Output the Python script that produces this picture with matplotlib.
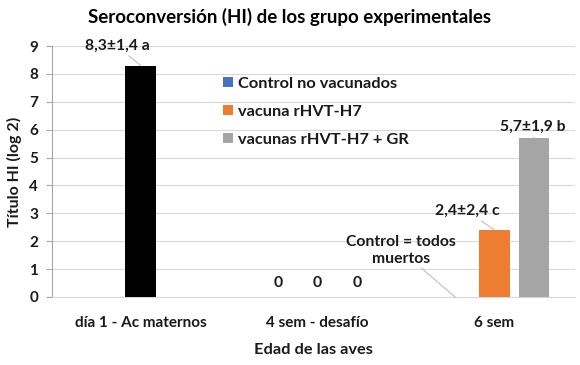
import matplotlib
matplotlib.use("Agg")
import matplotlib.pyplot as plt
from matplotlib.patches import Patch
import numpy as np

plt.rcParams['font.family'] = ['Lato', 'DejaVu Sans']
plt.rcParams['font.weight'] = 'bold'

groups = ["día 1 - Ac maternos", "4 sem - desafío", "6 sem"]
series_names = ["Control no vacunados", "vacuna rHVT-H7", "vacunas rHVT-H7 + GR"]
series_colors = ["#4472C4", "#ED7D31", "#A5A5A5"]
control = [None, 0, None]
vacuna = [None, 0, 2.4]
vacuna_gr = [None, 0, 5.7]
maternos = [8.3, None, None]
maternos_color = "#000000"

annot_texts = ["8,3±1,4 a", "2,4±2,4 c", "5,7±1,9 b"]

fig = plt.figure(figsize=(5.8, 3.65), dpi=100)
ax = fig.add_axes([52/580, 1-297/365, (575-52)/580, (297-46)/365])

x = np.arange(len(groups))
offsets = [-0.223, 0.0, 0.223]
bw = 0.17
all_series = [control, vacuna, vacuna_gr]
tc = '#1A1A1A'
for s, (vals, col, off) in enumerate(zip(all_series, series_colors, offsets)):
    for i, v in enumerate(vals):
        if v is None:
            continue
        ax.bar(x[i] + off, v, bw, color=col, zorder=3)
        if v == 0:
            ax.text(x[i] + off, v + 0.5, "0", ha='center', va='center',
                    fontsize=11.3, fontweight='bold', color=tc)
for i, v in enumerate(maternos):
    if v is None:
        continue
    ax.bar(x[i] + offsets[1], v, bw, color=maternos_color, zorder=3)

lc = '#BFBFBF'
ap = dict(arrowstyle='-', color=lc, lw=0.8, shrinkA=0, shrinkB=0)
fs_a = 11.3
ax.annotate(annot_texts[0], xy=(x[0] + offsets[1], maternos[0]), xytext=(-0.133, 9.0),
            ha='center', va='center', fontsize=fs_a, fontweight='bold',
            color=tc, arrowprops=ap, annotation_clip=False)
ax.annotate(annot_texts[1], xy=(x[2] + offsets[1], vacuna[2]), xytext=(1.845, 3.08),
            ha='center', va='center', fontsize=fs_a, fontweight='bold',
            color=tc, arrowprops=ap)
ax.annotate(annot_texts[2], xy=(x[2] + offsets[2], vacuna_gr[2]), xytext=(2.215, 6.09),
            ha='center', va='center', fontsize=fs_a, fontweight='bold',
            color=tc, arrowprops=ap)
ax.annotate("Control = todos\nmuertos", xy=(x[2] + offsets[0], 0), xytext=(1.47, 1.68),
            ha='center', va='center', fontsize=fs_a, fontweight='bold',
            color=tc, arrowprops=ap, linespacing=1.25)

ax.set_xlim(-0.5, (575-52)/177 - 0.5)
ax.set_ylim(0, 9)
ax.set_yticks(range(0, 10))
ax.set_xticks(x)
ax.set_xticklabels(groups, fontsize=11, fontweight='bold', color=tc)
ax.tick_params(axis='x', length=0, pad=14)
ax.tick_params(axis='y', length=4, color='#A6A6A6', labelsize=11, labelcolor=tc, pad=6)
for lab in ax.get_yticklabels():
    lab.set_fontweight('bold')
ax.yaxis.grid(True, color='#D9D9D9', lw=0.8, zorder=0)
ax.set_axisbelow(True)
for sp in ['top', 'right']:
    ax.spines[sp].set_visible(False)
ax.spines['left'].set_color('#A6A6A6')
ax.spines['bottom'].set_color('#D9D9D9')

ax.set_ylabel("Título HI (log 2)", fontsize=11.5, fontweight='bold', color=tc, labelpad=5)
ax.set_xlabel("Edad de las aves", fontsize=11.8, fontweight='bold', color=tc, labelpad=9)
fig.text(0.5, 1-17/365, "Seroconversión (HI) de los grupo experimentales", ha='center', va='center',
         fontsize=13.5, fontweight='bold', color='#000000')

handles = [Patch(facecolor=c, label=n) for c, n in zip(series_colors, series_names)]
leg = ax.legend(handles=handles, loc='upper left', bbox_to_anchor=(208/580, 1-62/365),
                bbox_transform=fig.transFigure, frameon=False, fontsize=11.8,
                handlelength=0.6, handleheight=0.6, handletextpad=0.35, labelspacing=0.85)
for t in leg.get_texts():
    t.set_fontweight('bold')
    t.set_color(tc)

fig.savefig("out.png", dpi=100)
